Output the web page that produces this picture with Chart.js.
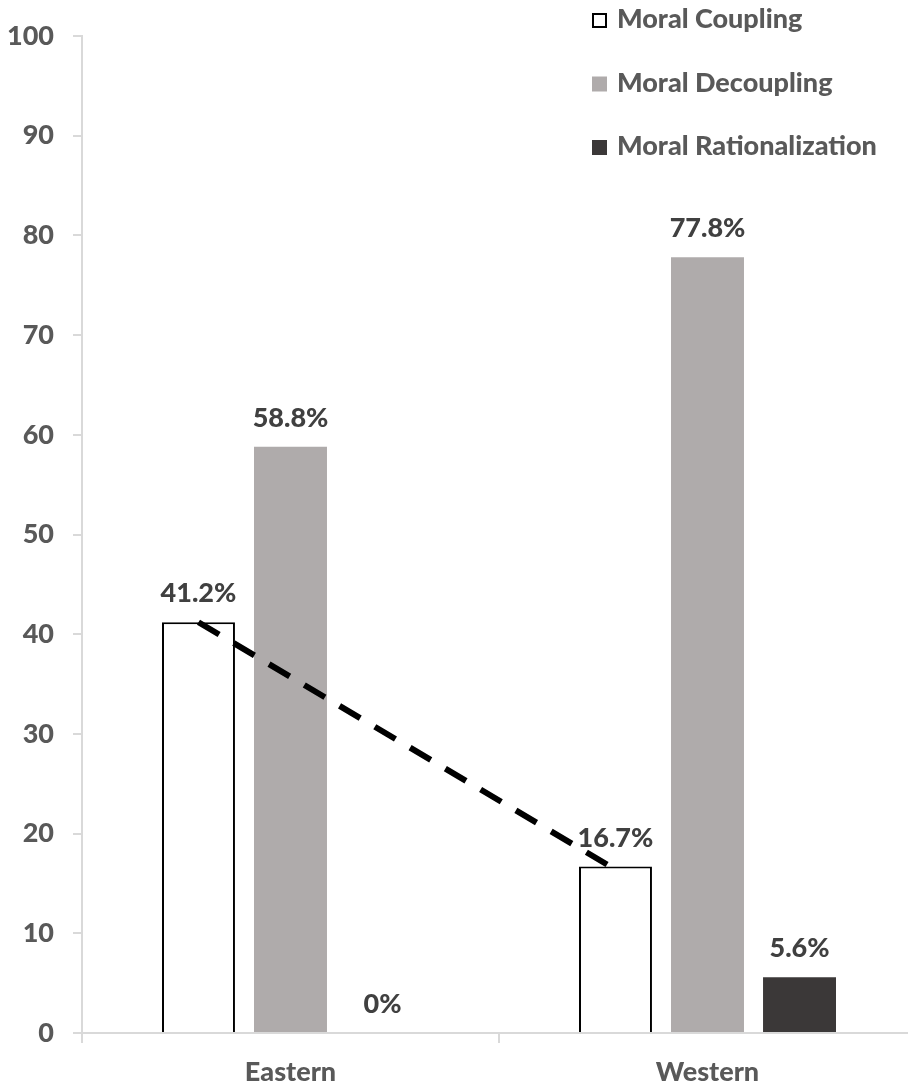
<!DOCTYPE html>
<html>
<head>
<meta charset="utf-8">
<script src="https://cdn.jsdelivr.net/npm/chart.js@4/dist/chart.umd.min.js"></script>
<style>
  html, body { margin: 0; padding: 0; background: #ffffff; overflow: hidden; }
  #wrap { width: 930px; height: 1088px; }
</style>
</head>
<body>
<div id="wrap"><canvas id="chart" width="930" height="1088"></canvas></div>
<script>
// Share of responses (%) per region and moral-reasoning type
const regions = ['Eastern', 'Western'];
const seriesNames = ['Moral Coupling', 'Moral Decoupling', 'Moral Rationalization'];
const coupling = [41.2, 16.7];
const decoupling = [58.8, 77.8];
const rationalization = [0, 5.6];
const yTickValues = [0, 10, 20, 30, 40, 50, 60, 70, 80, 90, 100];

const FONT = 'Lato, "Open Sans", sans-serif';
const AXIS_TEXT = '#595959';
const LABEL_TEXT = '#404040';
const AXIS_LINE = '#d9d9d9';

// Value labels above each bar
const valueLabels = {
  id: 'valueLabels',
  afterDatasetsDraw(chart) {
    const ctx = chart.ctx;
    ctx.save();
    ctx.font = '900 27px ' + FONT;
    ctx.fillStyle = LABEL_TEXT;
    ctx.textAlign = 'center';
    ctx.textBaseline = 'alphabetic';
    chart.data.datasets.forEach((ds, di) => {
      const meta = chart.getDatasetMeta(di);
      meta.data.forEach((bar, i) => {
        ctx.fillText(ds.data[i] + '%', bar.x, bar.y - 20);
      });
    });
    ctx.restore();
  }
};

// Dashed trend line joining the tops of the Moral Coupling bars
const couplingTrend = {
  id: 'couplingTrend',
  afterDatasetsDraw(chart) {
    const bars = chart.getDatasetMeta(0).data;
    if (bars.length < 2) return;
    const ctx = chart.ctx;
    ctx.save();
    ctx.strokeStyle = '#000000';
    ctx.lineWidth = 6;
    ctx.lineCap = 'butt';
    ctx.setLineDash([24, 17]);
    ctx.beginPath();
    ctx.moveTo(bars[0].x, bars[0].y);
    for (let i = 1; i < bars.length; i++) ctx.lineTo(bars[i].x, bars[i].y + 3);
    ctx.stroke();
    ctx.restore();
  }
};

// Vertical legend in the top-right corner
const cornerLegend = {
  id: 'cornerLegend',
  afterDraw(chart) {
    const ctx = chart.ctx;
    const boxX = 592, textX = 617, firstBaseline = 28, rowGap = 63.5, box = 15;
    ctx.save();
    ctx.font = '900 27px ' + FONT;
    ctx.textAlign = 'left';
    ctx.textBaseline = 'alphabetic';
    chart.data.datasets.forEach((ds, i) => {
      const base = firstBaseline + i * rowGap;
      const top = base - box;
      ctx.fillStyle = ds.backgroundColor;
      ctx.fillRect(boxX, top, box, box);
      if (ds.borderWidth) {
        ctx.strokeStyle = ds.borderColor;
        ctx.lineWidth = 2;
        ctx.strokeRect(boxX + 1, top + 1, box - 2, box - 2);
      }
      ctx.fillStyle = AXIS_TEXT;
      ctx.fillText(ds.label, textX, base);
    });
    ctx.restore();
  }
};

new Chart(document.getElementById('chart'), {
  type: 'bar',
  data: {
    labels: regions,
    datasets: [
      { label: seriesNames[0], data: coupling, backgroundColor: '#ffffff', borderColor: '#000000', borderWidth: 2 },
      { label: seriesNames[1], data: decoupling, backgroundColor: '#afabab', borderWidth: 0 },
      { label: seriesNames[2], data: rationalization, backgroundColor: '#3b3838', borderWidth: 0 }
    ]
  },
  options: {
    responsive: false,
    animation: false,
    devicePixelRatio: 1,
    categoryPercentage: 0.662,
    barPercentage: 0.793,
    layout: { padding: { top: 36, right: 14, left: 0, bottom: 0 } },
    plugins: { legend: { display: false }, tooltip: { enabled: false } },
    scales: {
      x: {
        grid: { display: true, drawOnChartArea: false, drawTicks: true, tickLength: 10, color: AXIS_LINE, lineWidth: 2, offset: true },
        border: { display: true, color: AXIS_LINE, width: 2 },
        ticks: { color: AXIS_TEXT, font: { family: FONT, size: 27, weight: '900' }, padding: 13 },
        afterFit(scale) { scale.height = 55; }
      },
      y: {
        min: 0,
        max: 100,
        afterBuildTicks(scale) { scale.ticks = yTickValues.map(v => ({ value: v })); },
        grid: { display: true, drawOnChartArea: false, drawTicks: true, tickLength: 9, color: AXIS_LINE, lineWidth: 2 },
        border: { display: true, color: AXIS_LINE, width: 2 },
        ticks: { color: AXIS_TEXT, font: { family: FONT, size: 27, weight: '900' }, padding: 19 },
        afterFit(scale) { scale.width = 82; }
      }
    }
  },
  plugins: [couplingTrend, valueLabels, cornerLegend]
});
</script>
</body>
</html>
